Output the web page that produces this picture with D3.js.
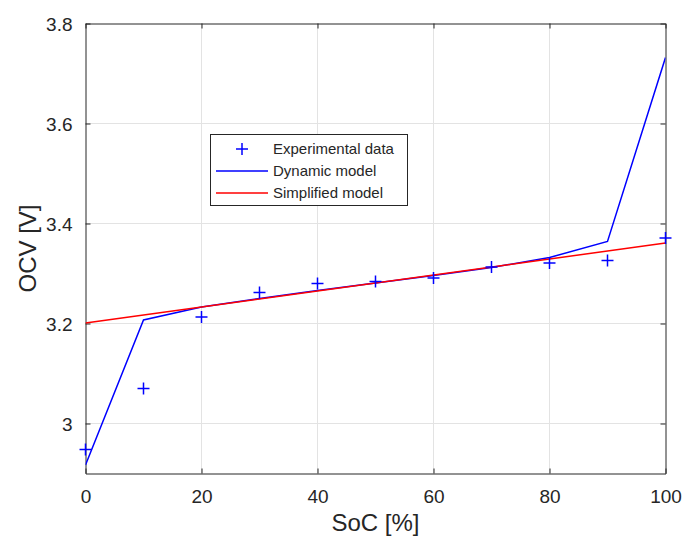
<!DOCTYPE html>
<html><head><meta charset="utf-8">
<script src="https://cdn.jsdelivr.net/npm/d3@7"></script>
<style>body{margin:0;background:#fff}svg{display:block}text{font-family:"Liberation Sans",Arial,Helvetica,sans-serif;fill:#262626}</style>
</head><body><svg id="c" width="683" height="538"></svg>
<script>
const soc = [0,10,20,30,40,50,60,70,80,90,100];
const expData = [2.948,3.070,3.213,3.262,3.280,3.284,3.291,3.313,3.321,3.326,3.371];
const dynModel = [2.917,3.207,3.233,3.250,3.266,3.281,3.296,3.312,3.332,3.364,3.732];
const simpSoc = [0,100];
const simpModel = [3.201,3.361];
const xTicks = [0,20,40,60,80,100];
const yTicks = [3.0,3.2,3.4,3.6,3.8];
const yTickLabels = ["3","3.2","3.4","3.6","3.8"];
const legendLabels = ["Experimental data","Dynamic model","Simplified model"];

const svg = d3.select("#c");
const L=85.5,R=665.5,T=23.5,B=473.5;
const x = d3.scaleLinear().domain([0,100]).range([L,R]);
const y = d3.scaleLinear().domain([2.9,3.8]).range([B,T]);
const g = svg.append("g");
// grid
g.selectAll(".gx").data(xTicks.slice(1,-1)).enter().append("line")
 .attr("x1",d=>x(d)).attr("x2",d=>x(d)).attr("y1",T).attr("y2",B)
 .attr("stroke","#e3e3e3").attr("stroke-width",1);
g.selectAll(".gy").data(yTicks.slice(0,-1)).enter().append("line")
 .attr("y1",d=>y(d)).attr("y2",d=>y(d)).attr("x1",L).attr("x2",R)
 .attr("stroke","#e3e3e3").attr("stroke-width",1);
// axes
const xa = g.append("g").attr("transform",`translate(0,${B})`).call(d3.axisBottom(x).tickValues(xTicks).tickSizeInner(-5).tickSizeOuter(0));
const xa2 = g.append("g").attr("transform",`translate(0,${T})`).call(d3.axisTop(x).tickValues(xTicks).tickSizeInner(-5).tickSizeOuter(0).tickFormat(""));
const ya = g.append("g").attr("transform",`translate(${L},0)`).call(d3.axisLeft(y).tickValues(yTicks).tickSizeInner(-5).tickSizeOuter(0).tickPadding(13).tickFormat((d,i)=>yTickLabels[i]));
const ya2 = g.append("g").attr("transform",`translate(${R},0)`).call(d3.axisRight(y).tickValues(yTicks).tickSizeInner(-5).tickSizeOuter(0).tickFormat(""));
[xa,xa2,ya,ya2].forEach(a=>{a.selectAll("path,line").attr("stroke","#262626");a.selectAll("text").attr("font-size",19).attr("fill","#262626").style("font-family",'"Liberation Sans",Arial,sans-serif');});
xa.selectAll("text").attr("y",29).attr("dy",0);
ya.selectAll("text").attr("dy","0.35em");
// labels
svg.append("text").attr("x",(L+R)/2).attr("y",531).attr("text-anchor","middle").attr("font-size",24).text("SoC [%]");
svg.append("text").attr("transform",`translate(36,${(T+B)/2}) rotate(-90)`).attr("text-anchor","middle").attr("font-size",24).text("OCV [V]");
// clip
svg.append("clipPath").attr("id","cp").append("rect").attr("x",L).attr("y",T).attr("width",R-L).attr("height",B-T);
const pg = svg.append("g").attr("clip-path","url(#cp)");
const line = d3.line().x(d=>x(d[0])).y(d=>y(d[1]));
pg.append("path").attr("d",line(soc.map((s,i)=>[s,dynModel[i]]))).attr("fill","none").attr("stroke","#0000ff").attr("stroke-width",1.5);
pg.append("path").attr("d",line(simpSoc.map((s,i)=>[s,simpModel[i]]))).attr("fill","none").attr("stroke","#ff0000").attr("stroke-width",1.5);
const m=6;
const mk = svg.append("g");
soc.forEach((s,i)=>{
  const cx=x(s), cy=y(expData[i]);
  mk.append("line").attr("x1",cx-m).attr("x2",cx+m).attr("y1",cy).attr("y2",cy).attr("stroke","#0000ff").attr("stroke-width",1.5);
  mk.append("line").attr("x1",cx).attr("x2",cx).attr("y1",cy-m).attr("y2",cy+m).attr("stroke","#0000ff").attr("stroke-width",1.5);
});
// legend
const lg = svg.append("g");
lg.append("rect").attr("x",210.5).attr("y",134.5).attr("width",197).attr("height",71).attr("fill","#fff").attr("stroke","#262626").attr("stroke-width",1);
const rows=[149,171,193];
legendLabels.forEach((t,i)=>{
  lg.append("text").attr("x",273).attr("y",rows[i]).attr("dy","0.35em").attr("font-size",15).attr("fill","#000").text(t);
});
lg.append("line").attr("x1",242-m).attr("x2",242+m).attr("y1",rows[0]).attr("y2",rows[0]).attr("stroke","#0000ff").attr("stroke-width",1.5);
lg.append("line").attr("x1",242).attr("x2",242).attr("y1",rows[0]-m).attr("y2",rows[0]+m).attr("stroke","#0000ff").attr("stroke-width",1.5);
lg.append("line").attr("x1",216).attr("x2",268).attr("y1",rows[1]).attr("y2",rows[1]).attr("stroke","#0000ff").attr("stroke-width",1.5);
lg.append("line").attr("x1",216).attr("x2",268).attr("y1",rows[2]).attr("y2",rows[2]).attr("stroke","#ff0000").attr("stroke-width",1.5);
</script></body></html>
